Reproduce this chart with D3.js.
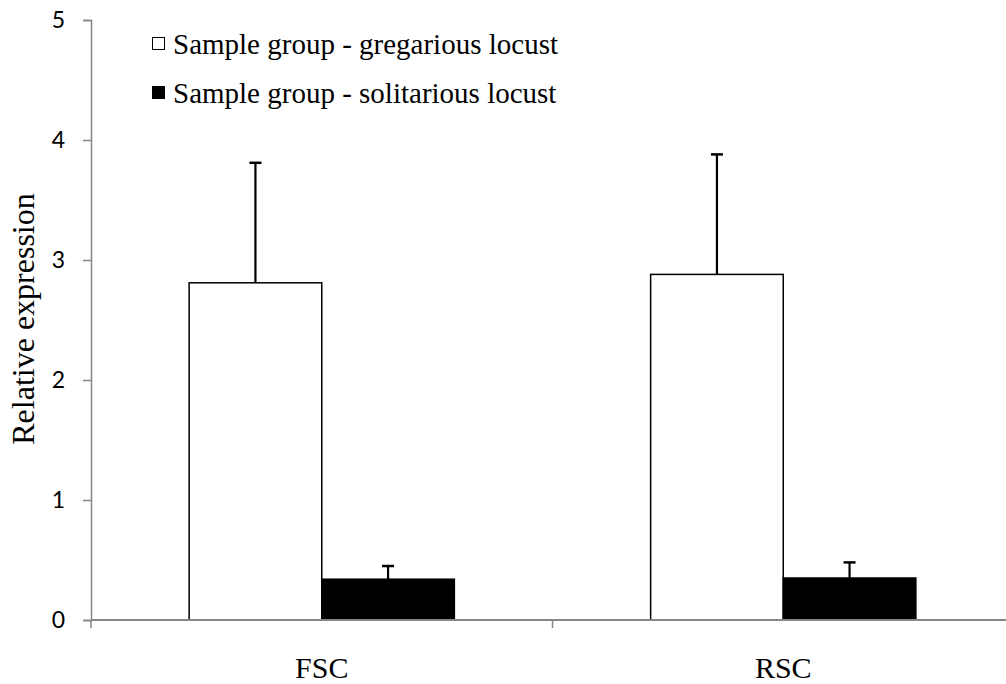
<!DOCTYPE html>
<html>
<head>
<meta charset="utf-8">
<script src="https://cdn.jsdelivr.net/npm/d3@7"></script>
<style>
  body { margin: 0; background: #fff; }
  svg { display: block; }
</style>
</head>
<body>
<div id="chart"></div>
<script>
// data
const categories = ['FSC', 'RSC'];
const seriesNames = ['Sample group - gregarious locust', 'Sample group - solitarious locust'];
const gregarious = [2.81, 2.88];
const gregariousErr = [1.0, 1.0];
const solitarious = [0.34, 0.35];
const solitariousErr = [0.11, 0.13];
const yTicks = [0, 1, 2, 3, 4, 5];

const width = 1006, height = 684;
const margin = { top: 20, right: -8, bottom: 64, left: 91 };
const serif = '"Liberation Serif", "Times New Roman", serif';

const svg = d3.select('#chart').append('svg')
  .attr('width', width)
  .attr('height', height);

const x = d3.scaleBand()
  .domain(categories)
  .range([margin.left, width - margin.right])
  .padding(0);

// two bars per category, Excel style gap either side
const xInner = d3.scaleBand()
  .domain([0, 1])
  .range([0, x.bandwidth()])
  .paddingInner(0)
  .paddingOuter(0.74);

const y = d3.scaleLinear()
  .domain([0, 5])
  .range([height - margin.bottom, margin.top]);

const axisColor = '#868686';

// y axis
const yAxis = svg.append('g')
  .attr('transform', `translate(${margin.left},0)`)
  .attr('font-size', 23)
  .attr('font-family', 'Lato, "Open Sans", sans-serif')
  .call(d3.axisLeft(y).tickValues(yTicks).tickSize(8).tickPadding(18).tickFormat(d3.format('d')));
yAxis.attr('font-size', 23).attr('font-family', 'Lato, "Open Sans", sans-serif');
yAxis.select('.domain').attr('stroke', axisColor).attr('stroke-width', 1.5);
yAxis.selectAll('.tick line').attr('stroke', axisColor).attr('stroke-width', 1.5);
yAxis.selectAll('.tick text').attr('fill', '#000');

// bars
const rows = [
  { vals: gregarious, errs: gregariousErr, fill: '#fff' },
  { vals: solitarious, errs: solitariousErr, fill: '#000' }
];

rows.forEach((s, si) => {
  const g = svg.append('g');
  g.selectAll('rect')
    .data(categories)
    .enter()
    .append('rect')
    .attr('x', (d) => x(d) + xInner(si))
    .attr('y', (d, i) => y(s.vals[i]))
    .attr('width', xInner.bandwidth())
    .attr('height', (d, i) => y(0) - y(s.vals[i]))
    .attr('fill', s.fill)
    .attr('stroke', '#000')
    .attr('stroke-width', 1.5);

  // error bars, upper side only
  categories.forEach((c, i) => {
    const cx = x(c) + xInner(si) + xInner.bandwidth() / 2;
    const top = y(s.vals[i] + s.errs[i]);
    g.append('line')
      .attr('x1', cx).attr('x2', cx)
      .attr('y1', y(s.vals[i])).attr('y2', top)
      .attr('stroke', '#000').attr('stroke-width', 2.2);
    g.append('line')
      .attr('x1', cx - 6).attr('x2', cx + 6)
      .attr('y1', top).attr('y2', top)
      .attr('stroke', '#000').attr('stroke-width', 2.5);
  });
});

// x axis
const xAxis = svg.append('g')
  .attr('transform', `translate(0,${y(0)})`);
xAxis.append('line')
  .attr('x1', margin.left).attr('x2', width)
  .attr('stroke', axisColor).attr('stroke-width', 2);
const xEdges = [margin.left, x(categories[1]), width - margin.right];
xAxis.selectAll('.xtick')
  .data(xEdges)
  .enter()
  .append('line')
  .attr('x1', (d) => d).attr('x2', (d) => d)
  .attr('y1', 0).attr('y2', 8)
  .attr('stroke', axisColor).attr('stroke-width', 1.5);
xAxis.selectAll('.xlabel')
  .data(categories)
  .enter()
  .append('text')
  .attr('x', (d) => x(d) + x.bandwidth() / 2)
  .attr('y', 58)
  .attr('text-anchor', 'middle')
  .attr('font-family', serif)
  .attr('font-size', 30)
  .text((d) => d);

// y axis title
svg.append('text')
  .attr('transform', `translate(34,319) rotate(-90)`)
  .attr('text-anchor', 'middle')
  .attr('font-family', serif)
  .attr('font-size', 32)
  .text('Relative expression');

// legend
const legend = svg.append('g');
const legendFills = ['#fff', '#000'];
seriesNames.forEach((name, i) => {
  const ly = 44 + i * 49;
  legend.append('rect')
    .attr('x', 152.5).attr('y', ly - 6.5)
    .attr('width', 12).attr('height', 12)
    .attr('fill', legendFills[i])
    .attr('stroke', '#000').attr('stroke-width', 1);
  legend.append('text')
    .attr('x', 173).attr('y', ly + 10)
    .attr('font-family', serif)
    .attr('font-size', 29)
    .text(name);
});
</script>
</body>
</html>
